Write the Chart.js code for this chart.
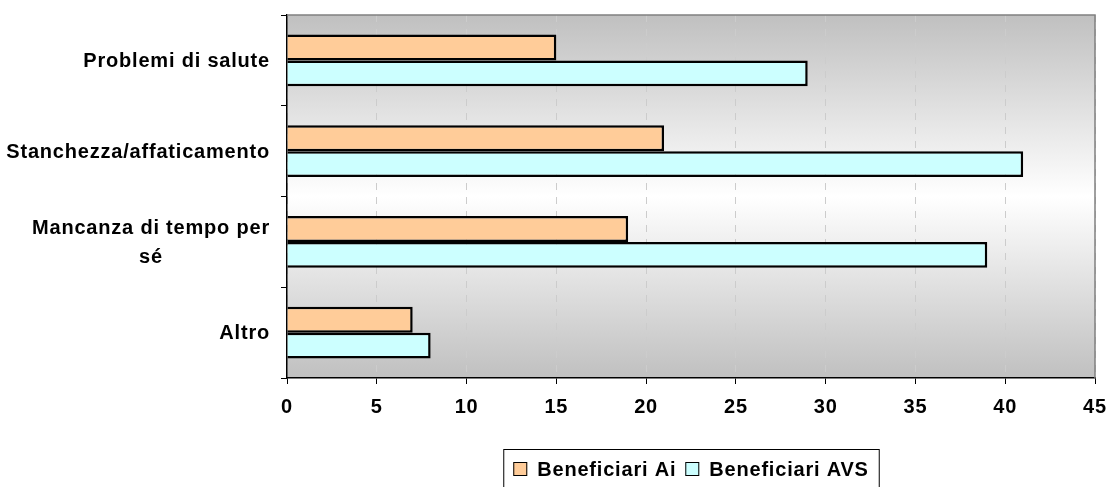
<!DOCTYPE html>
<html lang="it">
<head>
<meta charset="UTF-8" />
<title>Motivi</title>
<script src="https://cdn.jsdelivr.net/npm/chart.js"></script>
<style>
  html, body { margin: 0; padding: 0; background: #fff; }
  #wrap { width: 1109px; height: 487px; }
</style>
</head>
<body>
<div id="wrap"><canvas id="myChart"></canvas></div>
<script>
  const categories = [
    ["Problemi di salute"],
    ["Stanchezza/affaticamento"],
    ["Mancanza di tempo per", "sé"],
    ["Altro"],
  ];
  const seriesNames = ["Beneficiari Ai", "Beneficiari AVS"];
  const aiValues = [15, 21, 19, 7];
  const avsValues = [29, 41, 39, 8];
  const xMax = 45;
  const xStep = 5;

  const fontFamily = "'Liberation Sans', Arial, sans-serif";
  const spacing = "0.8px";

  // background gradient + plot frame (top/right gray border)
  const plotArea = {
    id: "plotArea",
    beforeDraw(chart) {
      const { ctx, chartArea: a } = chart;
      const g = ctx.createLinearGradient(0, a.top, 0, a.bottom);
      g.addColorStop(0, "#c0c0c0");
      g.addColorStop(0.5, "#ffffff");
      g.addColorStop(1, "#c0c0c0");
      ctx.save();
      ctx.fillStyle = g;
      ctx.fillRect(a.left, a.top, a.right - a.left, a.bottom - a.top);
      ctx.restore();
      ctx.letterSpacing = spacing;
    },
    afterDraw(chart) {
      const { ctx, chartArea: a } = chart;
      ctx.save();
      ctx.strokeStyle = "#808080";
      ctx.lineWidth = 1.5;
      ctx.beginPath();
      ctx.moveTo(a.left, a.top);
      ctx.lineTo(a.right, a.top);
      ctx.lineTo(a.right, a.bottom);
      ctx.stroke();
      ctx.restore();
      ctx.letterSpacing = "0px";
    },
  };

  // category labels: block right aligned, lines centred inside it
  const catLabels = {
    id: "catLabels",
    afterDraw(chart) {
      const { ctx } = chart;
      const y = chart.scales.y;
      ctx.save();
      ctx.letterSpacing = spacing;
      ctx.font = "bold 20px " + fontFamily;
      ctx.fillStyle = "#000";
      ctx.textAlign = "center";
      ctx.textBaseline = "middle";
      const right = 270, lh = 29;
      categories.forEach((lines, i) => {
        const cy = y.getPixelForValue(i) + 1;
        const w = Math.max(...lines.map((l) => ctx.measureText(l).width));
        const cx = right - w / 2;
        const y0 = cy - ((lines.length - 1) * lh) / 2;
        lines.forEach((l, j) => ctx.fillText(l, cx, y0 + j * lh));
      });
      ctx.restore();
    },
  };

  // boxed legend centred under the plot
  const boxLegend = {
    id: "boxLegend",
    afterDraw(chart) {
      const { ctx, chartArea: a } = chart;
      ctx.save();
      ctx.letterSpacing = spacing;
      ctx.font = "bold 20px " + fontFamily;
      ctx.textBaseline = "middle";
      ctx.textAlign = "left";
      const box = 14, gap = 10, itemGap = 9, padX = 10;
      const items = chart.data.datasets.map((d) => ({
        text: d.label, color: d.backgroundColor,
        w: box + gap + ctx.measureText(d.label).width,
      }));
      const total = items.reduce((s, it) => s + it.w, 0) + itemGap * (items.length - 1) + padX * 2;
      const left = (a.left + a.right) / 2 - total / 2;
      const top = 449, cy = 469;
      ctx.strokeStyle = "#000";
      ctx.lineWidth = 1;
      ctx.strokeRect(left + 0.5, top + 0.5, total, 60);
      let x = left + padX;
      items.forEach((it) => {
        ctx.fillStyle = it.color;
        ctx.fillRect(x, cy - box / 2, box, box);
        ctx.strokeRect(x + 0.5, cy - box / 2 + 0.5, box - 1, box - 1);
        ctx.fillStyle = "#000";
        ctx.fillText(it.text, x + box + gap, cy + 1);
        x += it.w + itemGap;
      });
      ctx.restore();
    },
  };

  const data = {
    labels: categories.map((c) => c.join(" ")),
    datasets: [
      {
        label: seriesNames[0],
        data: aiValues,
        backgroundColor: "#ffcc99",
        borderColor: "#000",
        borderWidth: 2.5,
        categoryPercentage: 0.573,
        barPercentage: 1.0,
      },
      {
        label: seriesNames[1],
        data: avsValues,
        backgroundColor: "#ccffff",
        borderColor: "#000",
        borderWidth: 2.5,
        categoryPercentage: 0.573,
        barPercentage: 1.0,
      },
    ],
  };

  const config = {
    type: "bar",
    data: data,
    options: {
      indexAxis: "y",
      responsive: true,
      maintainAspectRatio: false,
      animation: false,
      layout: { padding: { top: 15, right: 14, bottom: 0, left: 0 } },
      scales: {
        x: {
          min: 0,
          max: xMax,
          ticks: {
            stepSize: xStep,
            color: "#000",
            padding: 11,
            font: { family: fontFamily, size: 20, weight: "bold" },
          },
          grid: {
            color: "#cccccc",
            tickColor: "#000",
            tickLength: 6,
          },
          border: { color: "#000", width: 1.5, dash: [7, 7] },
          afterFit: (s) => {
            s.height = 109;
            s.paddingLeft = 0;
            s.paddingRight = 0;
          },
        },
        y: {
          ticks: { display: false },
          grid: {
            offset: true,
            drawOnChartArea: false,
            tickColor: "#000",
            tickLength: 6,
          },
          border: { color: "#000", width: 1.5 },
          afterFit: (s) => { s.width = 287; },
        },
      },
      plugins: {
        legend: { display: false },
        tooltip: { enabled: false },
      },
    },
    plugins: [plotArea, catLabels, boxLegend],
  };

  new Chart(document.getElementById("myChart"), config);
</script>
</body>
</html>
